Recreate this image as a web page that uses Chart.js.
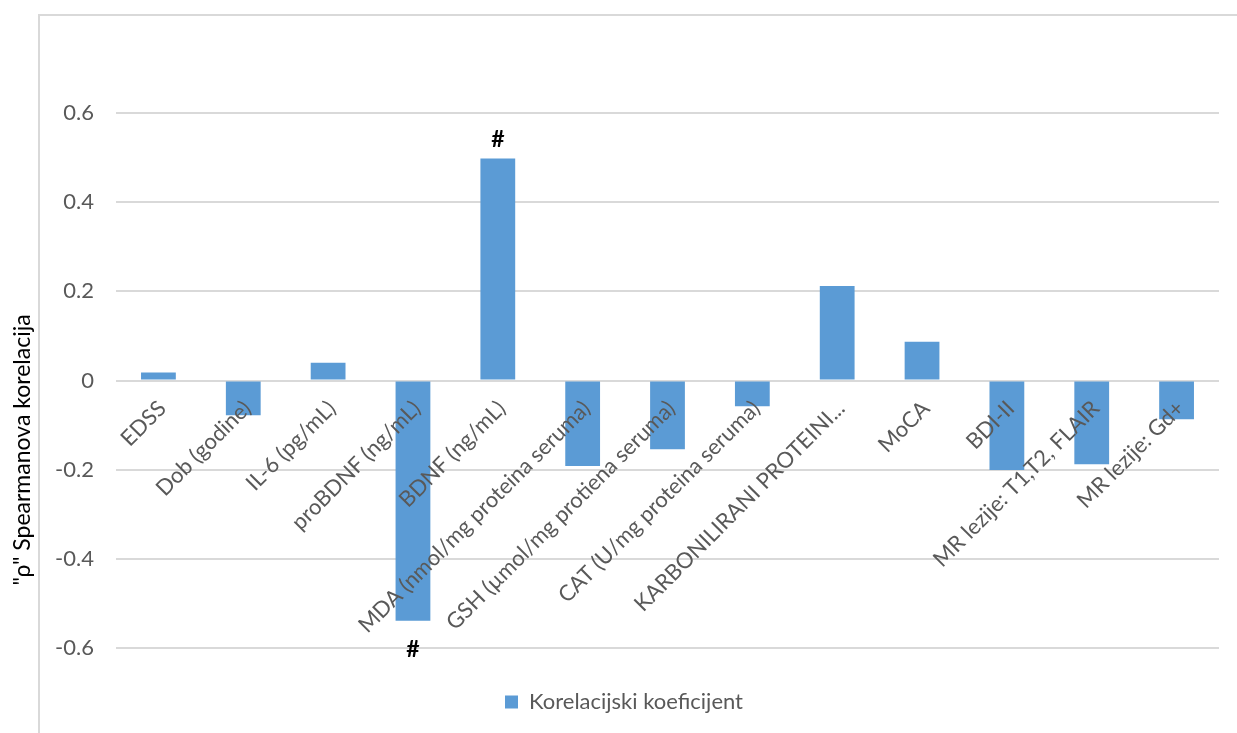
<!DOCTYPE html>
<html>
<head>
<meta charset="utf-8">
<script src="https://cdn.jsdelivr.net/npm/chart.js@4/dist/chart.umd.min.js"></script>
<style>
  body { margin: 0; background: #fff; }
  #frame { position: absolute; left: 38px; top: 14px; width: 1300px; height: 800px;
           border-left: 2px solid #d9d9d9; border-top: 2px solid #d9d9d9; }
  #wrap { position: absolute; left: 0; top: 0; width: 1237px; height: 733px; }
</style>
</head>
<body>
<div id="frame"></div>
<div id="wrap"><canvas id="chart"></canvas></div>
<script>
const labels = [
  "EDSS",
  "Dob (godine)",
  "IL-6 (pg/mL)",
  "proBDNF (ng/mL)",
  "BDNF (ng/mL)",
  "MDA (nmol/mg proteina seruma)",
  "GSH (µmol/mg protiena seruma)",
  "CAT (U/mg proteina seruma)",
  "KARBONILIRANI PROTEINI...",
  "MoCA",
  "BDI-II",
  "MR lezije: T1,T2, FLAIR",
  "MR lezije: Gd+"
];
const rho = [0.018, -0.078, 0.04, -0.539, 0.498, -0.192, -0.154, -0.058, 0.212, 0.087, -0.201, -0.188, -0.087];
const marks = ["", "", "", "#", "#", "", "", "", "", "", "", "", ""];

const seriesName = "Korelacijski koeficijent";
const yTitle = "\"ρ\" Spearmanova korelacija";

const FONT = "Lato, 'Open Sans', sans-serif";
const FS = 22;

// "#" above/below bars
const markPlugin = {
  id: "marks",
  afterDatasetsDraw(chart) {
    const ctx = chart.ctx;
    const meta = chart.getDatasetMeta(0);
    ctx.save();
    ctx.font = "bold 23px " + FONT;
    ctx.fillStyle = "#000";
    ctx.textAlign = "center";
    ctx.textBaseline = "alphabetic";
    meta.data.forEach((bar, i) => {
      if (!marks[i]) return;
      const y = rho[i] >= 0 ? bar.y - 11 : bar.y + 36;
      ctx.fillText(marks[i], bar.x, y);
    });
    ctx.restore();
  }
};

// y axis title, placed like the original
const yTitlePlugin = {
  id: "ytitle",
  afterDraw(chart) {
    const ctx = chart.ctx;
    ctx.save();
    ctx.translate(23, 450);
    ctx.rotate(-Math.PI / 2);
    ctx.font = "23px " + FONT;
    ctx.fillStyle = "#000";
    ctx.textAlign = "center";
    ctx.textBaseline = "middle";
    ctx.fillText(yTitle, 0, 0);
    ctx.restore();
  }
};

new Chart(document.getElementById("chart"), {
  type: "bar",
  data: {
    labels: labels,
    datasets: [{
      label: seriesName,
      data: rho,
      backgroundColor: "#5b9bd5",
      borderWidth: 0,
      barPercentage: 0.41,
      categoryPercentage: 1
    }]
  },
  options: {
    responsive: true,
    maintainAspectRatio: false,
    animation: false,
    layout: { padding: { left: 29, right: 18, top: 113, bottom: 10 } },
    plugins: {
      tooltip: { enabled: false },
      legend: {
        position: "bottom",
        labels: {
          boxWidth: 13,
          boxHeight: 13,
          padding: 43,
          color: "#595959",
          font: { family: FONT, size: FS }
        }
      }
    },
    scales: {
      x: {
        position: { y: 0 },
        grid: { display: false },
        border: { display: false },
        ticks: {
          z: 1,
          autoSkip: false,
          minRotation: 45,
          maxRotation: 45,
          padding: 7,
          labelOffset: 4,
          color: "#595959",
          font: { family: FONT, size: FS }
        }
      },
      y: {
        min: -0.6,
        max: 0.6,
        afterFit: (s) => { s.width = 87; },
        grid: { color: "#d9d9d9", lineWidth: 2, drawTicks: false },
        border: { display: false },
        ticks: {
          stepSize: 0.2,
          padding: 22,
          color: "#595959",
          font: { family: FONT, size: FS },
          callback: (v) => {
            const r = Math.round(v * 10) / 10;
            return r === 0 ? "0" : r.toFixed(1);
          }
        }
      }
    }
  },
  plugins: [markPlugin, yTitlePlugin]
});
</script>
</body>
</html>
